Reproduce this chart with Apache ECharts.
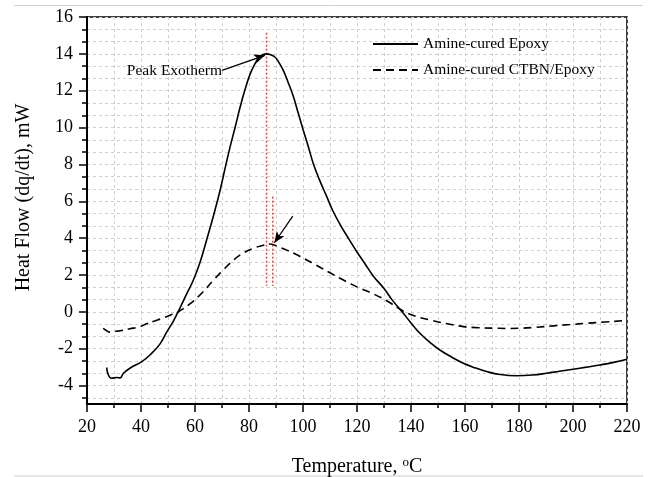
<!DOCTYPE html>
<html>
<head>
<meta charset="utf-8">
<script src="https://cdn.jsdelivr.net/npm/echarts@6/dist/echarts.min.js"></script>
<style>
  html, body { margin: 0; padding: 0; background: #fff; }
  #chart { width: 653px; height: 477px; }
</style>
</head>
<body>
<div id="chart"></div>
<script>
// ---- data ----
const seriesNames = ['Amine-cured Epoxy', 'Amine-cured CTBN/Epoxy'];

const epoxyT = [27.3, 27.9, 29.1, 31.0, 32.3, 33.5, 35.9, 40.3, 43.3, 47.0, 49.5, 52.0, 54.2, 57.0, 59.4, 62.0, 64.3, 67.0, 69.3, 71.0, 73.0, 75.0, 76.7, 78.5, 80.4, 82.0, 83.4, 85.0, 86.6, 88.0, 89.6, 91.0, 92.7, 94.5, 96.4, 98.2, 100.1, 102.0, 103.8, 106.0, 108.8, 111.0, 113.7, 117.0, 120.0, 123.0, 126.0, 130.0, 133.0, 137.0, 140.0, 143.3, 147.0, 150.7, 155.0, 159.4, 164.0, 168.0, 173.0, 179.0, 185.0, 190.3, 195.0, 200.0, 205.0, 210.0, 215.0, 220.0];
const epoxyHF = [-3.02, -3.42, -3.60, -3.56, -3.58, -3.33, -3.06, -2.70, -2.34, -1.75, -1.10, -0.50, 0.14, 1.00, 1.73, 2.75, 3.90, 5.30, 6.60, 7.70, 8.95, 10.10, 11.10, 12.05, 12.90, 13.40, 13.75, 13.95, 14.00, 13.95, 13.83, 13.55, 13.10, 12.45, 11.70, 10.80, 9.86, 8.95, 8.05, 7.20, 6.25, 5.50, 4.75, 3.95, 3.25, 2.60, 1.95, 1.27, 0.65, -0.05, -0.60, -1.16, -1.65, -2.07, -2.45, -2.79, -3.05, -3.24, -3.40, -3.47, -3.43, -3.33, -3.22, -3.11, -3.00, -2.88, -2.74, -2.57];

const ctbnT = [26.0, 27.0, 28.5, 29.7, 32.0, 35.9, 39.6, 42.1, 45.0, 48.3, 51.0, 53.8, 58.1, 61.0, 64.3, 67.0, 70.0, 74.2, 78.0, 81.6, 85.0, 87.8, 91.0, 94.0, 99.0, 103.8, 106.3, 110.0, 113.7, 117.0, 121.1, 126.0, 131.0, 137.1, 142.0, 147.0, 153.0, 159.4, 165.0, 171.7, 176.0, 180.4, 186.0, 192.7, 199.0, 205.1, 212.0, 218.6, 220.0];
const ctbnHF = [-0.89, -1.00, -1.10, -1.07, -1.03, -0.92, -0.80, -0.65, -0.50, -0.33, -0.17, 0.00, 0.43, 0.80, 1.30, 1.75, 2.20, 2.80, 3.20, 3.45, 3.60, 3.68, 3.52, 3.35, 3.00, 2.63, 2.42, 2.12, 1.82, 1.57, 1.28, 0.98, 0.60, 0.05, -0.25, -0.44, -0.63, -0.80, -0.86, -0.89, -0.90, -0.89, -0.84, -0.76, -0.69, -0.62, -0.55, -0.48, -0.46];

// red dotted guide lines: [x, yTop, yBottom]
const guide1 = [86.5, 15.15, 1.4];
const guide2 = [88.8, 6.25, 1.4];

// annotation arrows: [xStart, yStart, xEnd, yEnd]
const arrowPeak = [70.0, 13.1, 85.9, 13.92];
const arrowCtbn = [96.2, 5.2, 89.4, 3.75];
const peakLabel = 'Peak Exotherm';

// axes / tick labels
const xRange = [20, 220];
const xInterval = 20;
const yRange = [-5, 16];
const yMajorTicks = [-4, -2, 0, 2, 4, 6, 8, 10, 12, 14, 16];
const yMinorPerMajor = 3;

// minor tick positions (every 2/3 unit), excluding majors
const yMinorTicks = [];
{
  const step = 2 / yMinorPerMajor;
  for (let k = -1; k <= (yMajorTicks.length - 1) * yMinorPerMajor; k++) {
    if (k % yMinorPerMajor === 0) continue;
    const v = yMajorTicks[0] + k * step;
    if (v > yRange[0] && v < yRange[1]) yMinorTicks.push(+v.toFixed(4));
  }
}

// ---- chart ----
const FONT = 'Liberation Serif';
const zip = (a, b) => a.map((v, i) => [v, b[i]]);
const gridLine = { show: true, lineStyle: { color: '#cfcfcf', type: [3, 3], width: 1 } };

const chart = echarts.init(document.getElementById('chart'), null, { renderer: 'canvas' });

chart.setOption({
  backgroundColor: '#fff',
  animation: false,
  graphic: [
    { type: 'line', shape: { x1: 14, y1: 5.5, x2: 643, y2: 5.5 }, style: { stroke: '#d0d0d0', lineWidth: 1 } },
    { type: 'line', shape: { x1: 14, y1: 476, x2: 643, y2: 476 }, style: { stroke: '#d0d0d0', lineWidth: 1 } }
  ],
  grid: {
    left: 87, top: 17, right: 26, bottom: 73,
    containLabel: false, outerBoundsMode: 'none',
    show: true, borderColor: '#000', borderWidth: 1.5, backgroundColor: 'transparent'
  },
  legend: {
    data: seriesNames,
    orient: 'vertical',
    left: 372, top: 36, padding: 0,
    itemWidth: 45, itemHeight: 14, itemGap: 10,
    itemStyle: { opacity: 0 },
    lineStyle: { opacity: 1 },
    textStyle: { fontFamily: FONT, fontSize: 15.5, color: '#000' },
    inactiveColor: '#000'
  },
  xAxis: {
    type: 'value',
    min: xRange[0], max: xRange[1], interval: xInterval,
    name: 'Temperature, {sup|o}C',
    nameLocation: 'middle', nameGap: 52,
    nameTextStyle: {
      fontFamily: FONT, fontSize: 20, color: '#000',
      rich: { sup: { fontFamily: FONT, fontSize: 13, verticalAlign: 'top', padding: [0, 0, 8, 0], color: '#000' } }
    },
    axisLine: { show: true, onZero: false, lineStyle: { color: '#000', width: 2 } },
    axisTick: { show: true, inside: false, length: 8, lineStyle: { color: '#000', width: 1.5 } },
    minorTick: { show: true, splitNumber: 2, length: 4, lineStyle: { color: '#000', width: 1.5 } },
    axisLabel: { fontFamily: FONT, fontSize: 18, color: '#000', margin: 14 },
    splitLine: gridLine,
    minorSplitLine: gridLine
  },
  yAxis: [
    {
      type: 'value',
      min: yRange[0], max: yRange[1],
      name: 'Heat Flow (dq/dt), mW',
      nameLocation: 'middle', nameGap: 53,
      nameTextStyle: { fontFamily: FONT, fontSize: 20, color: '#000', padding: [0, 0, 0, 26] },
      axisLine: { show: true, onZero: false, lineStyle: { color: '#000', width: 2 } },
      axisTick: { show: true, inside: false, length: 8, customValues: yMajorTicks, lineStyle: { color: '#000', width: 1.5 } },
      minorTick: { show: false },
      axisLabel: { fontFamily: FONT, fontSize: 18, color: '#000', margin: 14, customValues: yMajorTicks },
      splitLine: gridLine
    },
    {
      type: 'value',
      min: yRange[0], max: yRange[1],
      position: 'left',
      axisLine: { show: false, onZero: false },
      axisTick: { show: true, inside: false, length: 5, customValues: yMinorTicks, lineStyle: { color: '#000', width: 1.5 } },
      minorTick: { show: false },
      axisLabel: { show: false },
      splitLine: gridLine
    }
  ],
  series: [
    {
      name: seriesNames[0], type: 'line', data: zip(epoxyT, epoxyHF),
      showSymbol: false, symbol: 'none', smooth: 0.45,
      lineStyle: { color: '#000', width: 1.6 }, itemStyle: { color: '#000' },
      z: 5,
      markLine: {
        silent: true, animation: false, precision: 3,
        label: { show: false },
        lineStyle: { color: '#000', width: 1.3, type: 'solid' },
        data: [[
          { coord: [arrowPeak[0], arrowPeak[1]], symbol: 'none' },
          { coord: [arrowPeak[2], arrowPeak[3]], symbol: 'arrow', symbolSize: [7, 11] }
        ], [
          { coord: [arrowCtbn[0], arrowCtbn[1]], symbol: 'none' },
          { coord: [arrowCtbn[2], arrowCtbn[3]], symbol: 'arrow', symbolSize: [7, 11] }
        ]]
      },
      markPoint: {
        silent: true, symbol: 'circle', symbolSize: 0,
        data: [{ coord: [arrowPeak[0], arrowPeak[1]], value: peakLabel }],
        label: {
          show: true, position: 'left', distance: 0, formatter: peakLabel,
          fontFamily: FONT, fontSize: 15.5, color: '#000'
        }
      }
    },
    {
      name: seriesNames[1], type: 'line', data: zip(ctbnT, ctbnHF),
      showSymbol: false, symbol: 'none', smooth: 0.45,
      lineStyle: { color: '#000', width: 1.6, type: [8, 5] }, itemStyle: { color: '#000' },
      z: 5
    },
    {
      name: 'guide1', type: 'line', data: [[guide1[0], guide1[1]], [guide1[0], guide1[2]]],
      showSymbol: false, symbol: 'none',
      lineStyle: { color: '#ff3c3c', width: 1.5, type: [2, 2] }, z: 3
    },
    {
      name: 'guide2', type: 'line', data: [[guide2[0], guide2[1]], [guide2[0], guide2[2]]],
      showSymbol: false, symbol: 'none',
      lineStyle: { color: '#ff3c3c', width: 1.5, type: [2, 2] }, z: 3
    }
  ]
});
</script>
</body>
</html>
